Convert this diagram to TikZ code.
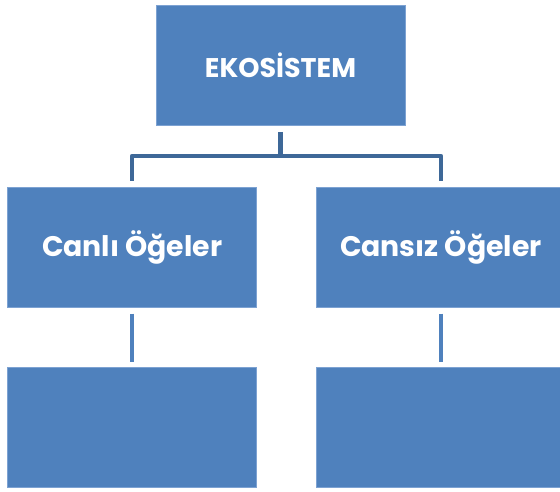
\documentclass[tikz,border=0pt]{standalone}
\usepackage{fontspec}
\setmainfont{Poppins}
\usetikzlibrary{matrix}
\usetikzlibrary{positioning}

\definecolor{kutumavi}{RGB}{79,129,189}
\definecolor{kenarmavi}{RGB}{125,162,210}
\definecolor{dalmavi}{RGB}{62,104,152}

\begin{document}
\begin{tikzpicture}[x=1pt, y=-1pt,
	kutu/.style={rectangle, fill=kutumavi, draw=kenarmavi, line width=.8pt,
		minimum width=249pt, minimum height=120pt, text=white,
		font=\fontsize{28.3}{32}\selectfont\bfseries},
	dal/.style={draw=dalmavi, line width=4.5pt, line join=round},
	alt/.style={draw=kutumavi, line width=4.5pt}]

\useasboundingbox (0,0) rectangle (560,492);

\node[kutu, font=\fontsize{27}{31}\selectfont\bfseries] (eko) at (280.5,65.5) {EKOS\.ISTEM};

\matrix(m)[matrix of nodes, column sep=59pt, row sep=59pt,
			 nodes in empty cells, nodes={kutu}] at (286.5,337)
{%
Canlı Öğeler & Cansız Öğeler\\
 & \\
};

%ekosistem splits into two
\coordinate (catal) at ([yshift=-30pt]eko.south);
\draw[dal] ([yshift=-6pt]eko.south) -- (catal);
\draw[dal] ([yshift=6pt]m-1-1.north) |- (catal) -| ([yshift=6pt]m-1-2.north);

%lower boxes
\draw[alt] ([yshift=-6pt]m-1-1.south) -- ([yshift=5pt]m-2-1.north);
\draw[alt] ([yshift=-6pt]m-1-2.south) -- ([yshift=5pt]m-2-2.north);
\end{tikzpicture}
\end{document}
